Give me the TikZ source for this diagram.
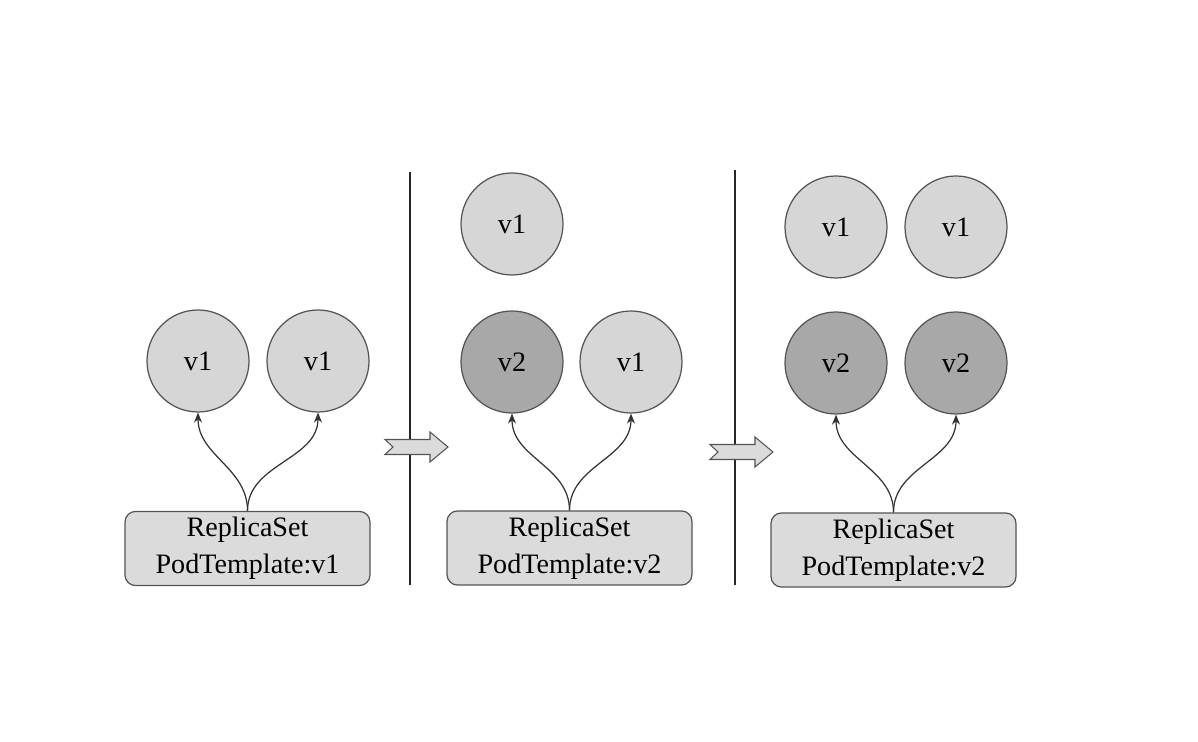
\documentclass[tikz,border=0pt]{standalone}
\usepackage{fontspec}
\setmainfont{Liberation Serif}
\usetikzlibrary{arrows.meta}
\definecolor{podold}{gray}{0.84}
\definecolor{podnew}{gray}{0.66}
\definecolor{rsfill}{gray}{0.86}
\definecolor{edge}{gray}{0.33}
\tikzset{
  pod/.style    = {circle, draw=edge, line width=0.7pt, minimum size=2.04cm,
                   inner sep=0pt, font=\fontsize{16}{19}\selectfont},
  oldpod/.style = {pod, fill=podold},
  newpod/.style = {pod, fill=podnew},
  rsbox/.style  = {draw=edge, fill=rsfill, rounded corners=6pt, line width=0.7pt,
                   minimum width=4.9cm, minimum height=1.44cm, align=center,
                   font=\fontsize{16}{21}\selectfont},
  owns/.style   = {-{Stealth[length=2mm,width=1.6mm]}, line width=0.7pt,
                   draw=black!80, out=90, in=-90},
  divider/.style = {line width=0.8pt, draw=black!85},
  pics/step arrow/.style = {code={
    \draw[edge, fill=rsfill, line width=0.6pt]
      (0,0.15) -- (0.9,0.15) -- (0.9,0.3) -- (1.26,0) -- (0.9,-0.3)
      -- (0.9,-0.15) -- (0,-0.15) -- (0.16,0) -- cycle;
  }}
}

\begin{document}
\begin{tikzpicture}
\useasboundingbox (0,0) rectangle (23.96,14.84);

% before the update
\node[oldpod] (a1) at (3.96,7.62) {v1};
\node[oldpod] (a2) at (6.36,7.62) {v1};
\node[rsbox]  (rsa) at (4.95,3.87) {ReplicaSet\\PodTemplate:v1};
\draw[owns] (rsa.north) to (a1.south);
\draw[owns] (rsa.north) to (a2.south);

\draw[divider] (8.2,11.4) -- (8.2,3.14);
\pic at (7.7,5.9) {step arrow};

% template changed, one pod replaced
\node[oldpod] (b0) at (10.24,10.36) {v1};
\node[newpod] (b1) at (10.24,7.6) {v2};
\node[oldpod] (b2) at (12.62,7.6) {v1};
\node[rsbox]  (rsb) at (11.39,3.88) {ReplicaSet\\PodTemplate:v2};
\draw[owns] (rsb.north) to (b1.south);
\draw[owns] (rsb.north) to (b2.south);

\draw[divider] (14.7,11.44) -- (14.7,3.14);
\pic at (14.2,5.8) {step arrow};

% all pods replaced
\node[oldpod] (c3) at (16.72,10.3) {v1};
\node[oldpod] (c4) at (19.12,10.3) {v1};
\node[newpod] (c1) at (16.72,7.58) {v2};
\node[newpod] (c2) at (19.12,7.58) {v2};
\node[rsbox]  (rsc) at (17.87,3.84) {ReplicaSet\\PodTemplate:v2};
\draw[owns] (rsc.north) to (c1.south);
\draw[owns] (rsc.north) to (c2.south);
\end{tikzpicture}
\end{document}
